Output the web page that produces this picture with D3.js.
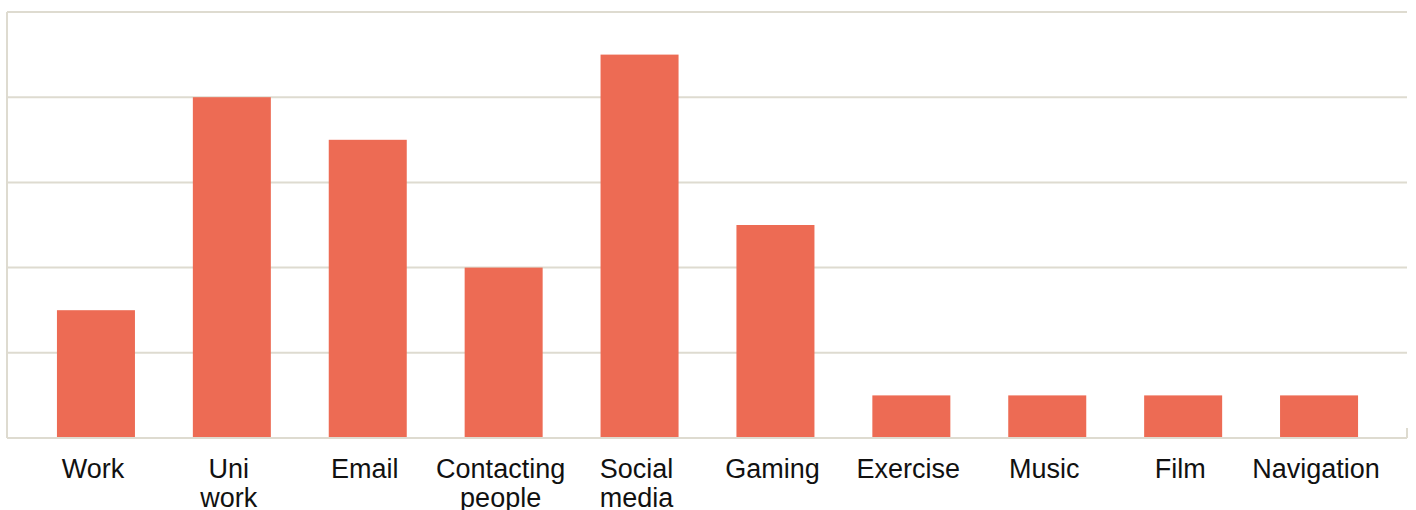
<!DOCTYPE html>
<html>
<head>
<meta charset="utf-8">
<script src="https://cdn.jsdelivr.net/npm/d3@7"></script>
<style>
  body { margin: 0; background: #fff; }
  svg { display: block; }
</style>
</head>
<body>
<svg id="chart"></svg>
<script>
// categories (labels broken into lines as shown)
const categories = ['Work', 'Uni work', 'Email', 'Contacting people', 'Social media',
  'Gaming', 'Exercise', 'Music', 'Film', 'Navigation'];
const labelLines = [['Work'], ['Uni', 'work'], ['Email'], ['Contacting', 'people'], ['Social', 'media'],
  ['Gaming'], ['Exercise'], ['Music'], ['Film'], ['Navigation']];
const values = [1.5, 4, 3.5, 2, 4.5, 2.5, 0.5, 0.5, 0.5, 0.5];
const yTicks = [0, 1, 2, 3, 4, 5];

const svgWidth = 1416;
const svgHeight = 510;
const plot = { left: 7, right: 1407, top: 12, bottom: 438 };

const svg = d3.select('#chart')
  .attr('width', svgWidth)
  .attr('height', svgHeight);

// Set up scales
const xScale = d3.scaleBand()
  .domain(categories)
  .range([28, 1387])
  .paddingInner(0.426)
  .paddingOuter(0.213);

const yScale = d3.scaleLinear()
  .domain([0, 5])
  .range([plot.bottom, plot.top]);

const gridColor = '#dedbd0';

// gridlines
svg.append('g')
  .selectAll('line')
  .data(yTicks)
  .enter()
  .append('line')
  .attr('x1', plot.left)
  .attr('x2', plot.right)
  .attr('y1', (d) => yScale(d))
  .attr('y2', (d) => yScale(d))
  .attr('stroke', gridColor)
  .attr('stroke-width', 2);

// left axis line and right end tick
svg.append('line')
  .attr('x1', plot.left).attr('x2', plot.left)
  .attr('y1', plot.top).attr('y2', plot.bottom)
  .attr('stroke', gridColor).attr('stroke-width', 2);
svg.append('line')
  .attr('x1', plot.right).attr('x2', plot.right)
  .attr('y1', plot.bottom - 10).attr('y2', plot.bottom)
  .attr('stroke', gridColor).attr('stroke-width', 2);

// bars
svg.append('g')
  .selectAll('rect')
  .data(values)
  .enter()
  .append('rect')
  .attr('x', (d, i) => xScale(categories[i]))
  .attr('y', (d) => yScale(d))
  .attr('width', xScale.bandwidth())
  .attr('height', (d) => yScale(0) - yScale(d))
  .attr('fill', '#ed6b54');

// redraw baseline on top of bars
svg.append('line')
  .attr('x1', plot.left).attr('x2', plot.right)
  .attr('y1', yScale(0)).attr('y2', yScale(0))
  .attr('stroke', gridColor).attr('stroke-width', 2);

// category labels
const labels = svg.append('g')
  .selectAll('text')
  .data(categories)
  .enter()
  .append('text')
  .attr('x', (d) => xScale(d) + xScale.bandwidth() / 2 - 3)
  .attr('y', 478)
  .attr('text-anchor', 'middle')
  .attr('font-family', 'Liberation Sans, Arial, sans-serif')
  .attr('font-size', 27)
  .attr('fill', '#111');

labels.selectAll('tspan')
  .data((d, i) => labelLines[i])
  .enter()
  .append('tspan')
  .attr('x', function () { return d3.select(this.parentNode).attr('x'); })
  .attr('dy', (d, i) => (i === 0 ? 0 : 29))
  .text((d) => d);
</script>
</body>
</html>
